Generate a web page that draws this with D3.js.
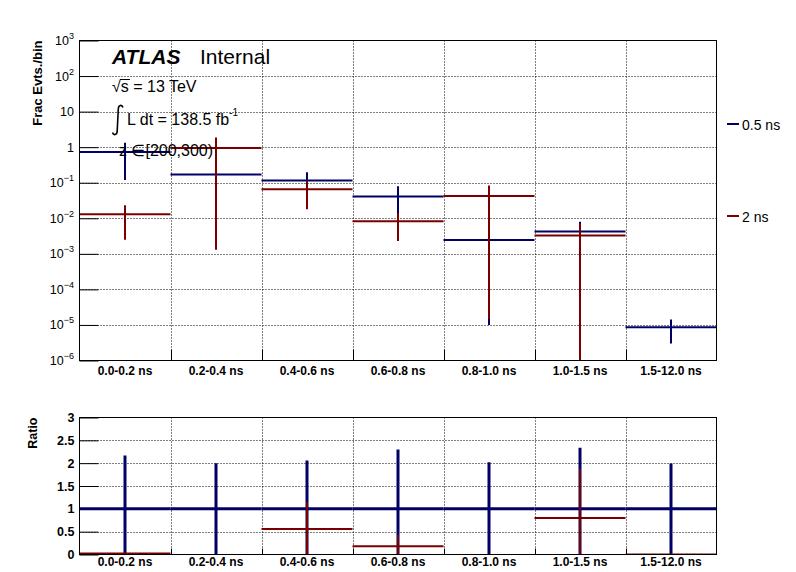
<!DOCTYPE html>
<html>
<head>
<meta charset="utf-8">
<script src="https://cdn.jsdelivr.net/npm/d3@7/dist/d3.min.js"></script>
<style>
  body { margin: 0; background: #fff; }
  svg { display: block; }
  text { font-family: "Liberation Sans", Arial, Helvetica, sans-serif; }
</style>
</head>
<body>
<svg id="chart" width="796" height="572"></svg>
<script>
// ---------------- data ----------------
const categories = ["0.0-0.2 ns", "0.2-0.4 ns", "0.4-0.6 ns", "0.6-0.8 ns", "0.8-1.0 ns", "1.0-1.5 ns", "1.5-12.0 ns"];
const seriesNames = ["0.5 ns", "2 ns"];
const frac05 = [0.73, 0.171, 0.116, 0.041, 0.00244, 0.00428, 8.6e-6];
const frac05Err = [0.61, 0.169, 0.08, 0.038, 0.00243, 0.0037, 5.6e-6];
const frac2 = [0.0129, 0.94, 0.065, 0.0082, 0.042, 0.0033, 0];
const frac2Err = [0.0104, 0.9387, 0.047, 0.0059, 0.041985, 0.0037, 0];
const ratio05 = [1, 1, 1, 1, 1, 1, 1];
const ratio05Err = [1.17, 1.0, 1.06, 1.30, 1.02, 1.34, 0.99];
const ratio2 = [0.02, 5.5, 0.56, 0.18, 17, 0.8, 0];
const ratio2Err = [0.02, 5.5, 0.59, 0.24, 17, 1.08, 0];
const logTickExps = [-6, -5, -4, -3, -2, -1, 0, 1, 2, 3];
const ratioTicks = [0, 0.5, 1, 1.5, 2, 2.5, 3];

const BLUE = "#000066", RED = "#7a0000";

// ---------------- layout ----------------
const svg = d3.select("#chart");
const L = 79.5, R = 716.5;
const topY0 = 40.5, topY1 = 360.5;
const botY0 = 417.5, botY1 = 554.5;

const x = d3.scaleBand().domain(categories).range([L, R]).padding(0);
const yTop = d3.scaleLog().domain([1e-6, 1e3]).range([topY1, topY0]);
const yBot = d3.scaleLinear().domain([0, 3]).range([botY1, botY0]);

svg.append("defs").html(
  `<clipPath id="clipTop"><rect x="${L}" y="${topY0}" width="${R-L}" height="${topY1-topY0}"/></clipPath>
   <clipPath id="clipBot"><rect x="${L}" y="${botY0}" width="${R-L}" height="${botY1-botY0}"/></clipPath>`);

// ---------------- grids ----------------
function grid(yScale, yVals, y0, y1) {
  const g = svg.append("g").attr("stroke", "#000").attr("stroke-width", 1).attr("stroke-dasharray", "1,2");
  yVals.forEach(v => {
    const yy = Math.round(yScale(v)) + 0.5;
    g.append("line").attr("x1", L).attr("x2", R).attr("y1", yy).attr("y2", yy);
  });
  categories.slice(1).forEach(c => {
    const xx = Math.round(x(c)) + 0.5;
    g.append("line").attr("x1", xx).attr("x2", xx).attr("y1", y0).attr("y2", y1);
  });
}
grid(yTop, logTickExps.slice(1, -1).map(e => Math.pow(10, e)), topY0, topY1);
grid(yBot, ratioTicks.slice(1, -1), botY0, botY1);

// ---------------- axes ----------------
const majorVals = logTickExps.map(e => Math.pow(10, e));
const minorVals = [];
logTickExps.slice(0, -1).forEach(e => { for (let k = 2; k <= 9; k++) minorVals.push(k * Math.pow(10, e)); });

const gTopY = svg.append("g").attr("transform", `translate(${L},0)`);
gTopY.call(d3.axisLeft(yTop).tickValues(minorVals).tickFormat("").tickSizeInner(-11).tickSizeOuter(0));
gTopY.call(d3.axisLeft(yTop).tickValues(majorVals).tickSizeInner(-19).tickSizeOuter(0).tickPadding(5).tickFormat(""));
gTopY.select(".domain").remove();
gTopY.selectAll(".tick line").attr("stroke", "#000");

const topLabels = svg.append("g").attr("font-size", 12.5).attr("text-anchor", "end");
logTickExps.forEach(e => {
  const yy = yTop(Math.pow(10, e));
  if (e === 0 || e === 1) {
    topLabels.append("text").attr("x", 74).attr("y", yy + 4.5).text(e === 0 ? "1" : "10");
  } else {
    const t = topLabels.append("text").attr("x", 74).attr("y", yy + 4.5);
    t.append("tspan").text("10");
    t.append("tspan").attr("dy", -6).attr("font-size", 9).text(e < 0 ? "\u2212" + (-e) : String(e));
  }
});

// upper x axis ticks (inward)
const gTopX = svg.append("g").attr("transform", `translate(0,${topY1})`);
categories.slice(1).forEach(c => {
  const xx = Math.round(x(c)) + 0.5;
  gTopX.append("line").attr("x1", xx).attr("x2", xx).attr("y1", 0).attr("y2", -11).attr("stroke", "#000");
});
svg.append("g").attr("font-size", 12).attr("font-weight", "bold").attr("text-anchor", "middle")
  .selectAll("text").data(categories).join("text")
  .attr("x", d => x(d) + x.bandwidth() / 2).attr("y", 375).text(d => d);

// lower y axis
const gBotY = svg.append("g").attr("transform", `translate(${L},0)`);
gBotY.call(d3.axisLeft(yBot).tickValues(ratioTicks).tickSizeInner(-19).tickSizeOuter(0).tickPadding(5)
  .tickFormat(d => d3.format("")(d)));
gBotY.select(".domain").remove();
gBotY.selectAll(".tick line").attr("stroke", "#000");
gBotY.selectAll(".tick text").attr("font-size", 12.5).attr("font-weight", "bold").attr("x", -5)
  .attr("font-family", '"Liberation Sans", Arial, sans-serif').attr("fill", "#000");
const gBotX = svg.append("g");
categories.slice(1).forEach(c => {
  const xx = Math.round(x(c)) + 0.5;
  gBotX.append("line").attr("x1", xx).attr("x2", xx).attr("y1", botY1).attr("y2", botY1 - 6).attr("stroke", "#000");
});
svg.append("g").attr("font-size", 12).attr("font-weight", "bold").attr("text-anchor", "middle")
  .selectAll("text").data(categories).join("text")
  .attr("x", d => x(d) + x.bandwidth() / 2).attr("y", 566).text(d => d);

// axis titles
svg.append("text").attr("transform", `translate(42,${topY0}) rotate(-90)`).attr("text-anchor", "end")
  .attr("font-size", 13).attr("font-weight", "bold").text("Frac Evts./bin");
svg.append("text").attr("transform", `translate(37,${botY0}) rotate(-90)`).attr("text-anchor", "end")
  .attr("font-size", 12.5).attr("font-weight", "bold").text("Ratio");

// ---------------- data marks ----------------
function drawSeries(clipId, yScale, vals, errs, color, width, isLog) {
  const g = svg.append("g").attr("clip-path", `url(#${clipId})`).attr("stroke", color).attr("stroke-width", width);
  const [dMin, dMax] = yScale.domain();
  const lo = isLog ? 1e-9 : -10;
  categories.forEach((c, i) => {
    const v = vals[i];
    if (isLog && v <= 0) return;
    if (v > dMax) return; // out of frame: not drawn
    const cx = x(c) + x.bandwidth() / 2;
    const yv = yScale(v);
    g.append("line").attr("x1", x(c)).attr("x2", x(c) + x.bandwidth()).attr("y1", yv).attr("y2", yv);
    const e = errs[i];
    if (e > 0) {
      const top = v + e, bot = Math.max(v - e, lo);
      g.append("line").attr("x1", cx).attr("x2", cx).attr("y1", yScale(top)).attr("y2", yScale(bot));
    }
  });
}
drawSeries("clipTop", yTop, frac05, frac05Err, BLUE, 2, true);
drawSeries("clipTop", yTop, frac2, frac2Err, RED, 2, true);
drawSeries("clipBot", yBot, ratio05, ratio05Err, BLUE, 3, false);
drawSeries("clipBot", yBot, ratio2, ratio2Err, RED, 2, false);

// frames
svg.append("rect").attr("x", L).attr("y", topY0).attr("width", R - L).attr("height", topY1 - topY0)
  .attr("fill", "none").attr("stroke", "#000").attr("stroke-width", 1);
svg.append("rect").attr("x", L).attr("y", botY0).attr("width", R - L).attr("height", botY1 - botY0)
  .attr("fill", "none").attr("stroke", "#000").attr("stroke-width", 1);

// ---------------- labels ----------------
svg.append("text").attr("x", 112).attr("y", 64).attr("font-size", 21).attr("font-weight", "bold")
  .attr("font-style", "italic").text("ATLAS");
svg.append("text").attr("x", 200).attr("y", 64).attr("font-size", 21).text("Internal");

const sq = svg.append("text").attr("x", 112).attr("y", 92).attr("font-size", 16);
sq.append("tspan").text("\u221A");
sq.append("tspan").text("s = 13 TeV");
svg.append("line").attr("x1", 120).attr("x2", 130).attr("y1", 79.5).attr("y2", 79.5).attr("stroke", "#000").attr("stroke-width", 1);

// integral sign
svg.append("path")
  .attr("d", "M123,107.5 C122,104.5 118.5,104.5 118.3,109 L117.2,131 C117,135.5 113.5,135.5 112.5,132.5")
  .attr("fill", "none").attr("stroke", "#000").attr("stroke-width", 1.6);
const lum = svg.append("text").attr("x", 127).attr("y", 125).attr("font-size", 16);
lum.append("tspan").text("L dt = 138.5 fb");
lum.append("tspan").attr("dy", -9).attr("font-size", 10).text("-1");

svg.append("text").attr("x", 119).attr("y", 156).attr("font-size", 16).text("z \u2208[200,300)");

// legend
const legY = [124, 216];
seriesNames.forEach((n, i) => {
  svg.append("line").attr("x1", 727).attr("x2", 739).attr("y1", legY[i]).attr("y2", legY[i])
    .attr("stroke", i === 0 ? BLUE : RED).attr("stroke-width", 2);
  svg.append("text").attr("x", 742).attr("y", legY[i] + 5.5).attr("font-size", 14).text(n);
});
</script>
</body>
</html>
